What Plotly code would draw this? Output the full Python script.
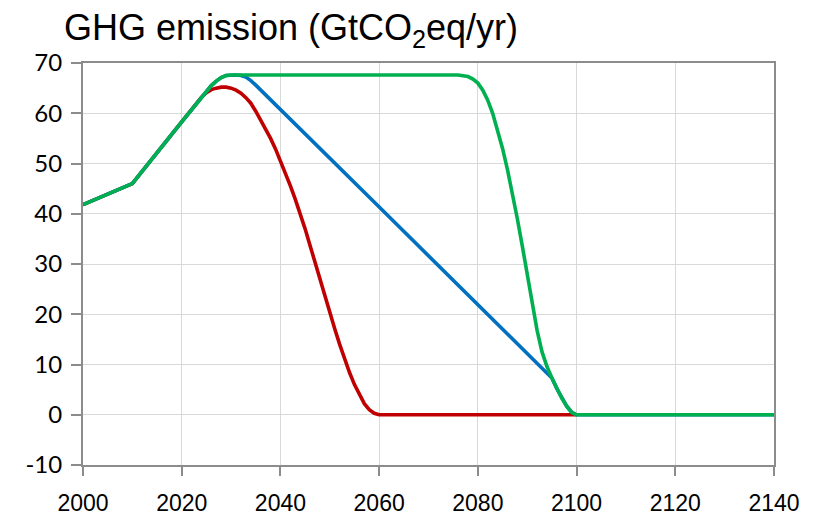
import plotly.graph_objects as go

# Common historical/rising part shared by all three scenarios
common_years = [2000, 2010, 2020, 2024]
common_vals = [41.8, 46.0, 58.3, 63.2]

# Red scenario (fast decline to zero by 2060)
red_years = [2025, 2026, 2027, 2028, 2029, 2030, 2031, 2032, 2033, 2034, 2035, 2036, 2037,
             2038, 2039, 2040, 2041, 2042, 2043, 2044, 2045, 2046, 2047, 2048, 2049, 2050,
             2051, 2052, 2053, 2054, 2055, 2056, 2057, 2058, 2059, 2060, 2100]
red_vals = [64.1, 64.7, 65.0, 65.2, 65.2, 65.0, 64.6, 64.0, 63.1, 62.0, 60.4, 58.7, 56.9,
            55.0, 52.9, 50.6, 48.2, 45.6, 42.9, 40.1, 37.0, 33.7, 30.3, 26.9, 23.6, 20.3,
            17.1, 14.0, 11.1, 8.4, 6.0, 3.9, 2.2, 1.0, 0.3, 0.0, 0.0]

# Blue scenario (linear decline, joins green near 2095)
blue_years = [2025, 2026, 2027, 2028, 2029, 2030, 2031, 2032, 2033, 2034, 2035,
              2061.4, 2092.3, 2095, 2096, 2097, 2098, 2099, 2100, 2140]
blue_vals = [64.4, 65.5, 66.4, 67.1, 67.5, 67.6, 67.6, 67.5, 67.2, 66.5, 65.6,
             40.0, 10.0, 7.3, 5.2, 3.3, 1.7, 0.5, 0.0, 0.0]

# Green scenario (plateau then late decline)
green_years = [2025, 2026, 2027, 2028, 2029, 2030, 2076, 2077, 2078, 2079, 2080, 2081,
               2082, 2083, 2084, 2085, 2086, 2087, 2088, 2089, 2090, 2091, 2092, 2093,
               2094, 2095, 2096, 2097, 2098, 2099, 2100, 2140]
green_vals = [64.4, 65.5, 66.4, 67.1, 67.5, 67.6, 67.6, 67.5, 67.3, 66.8, 66.0, 64.6,
              62.6, 60.0, 56.8, 53.0, 48.8, 44.1, 39.0, 33.6, 28.0, 22.3, 16.8, 12.5,
              9.6, 7.3, 5.2, 3.3, 1.7, 0.5, 0.0, 0.0]

x_ticks = [2000, 2020, 2040, 2060, 2080, 2100, 2120, 2140]
y_ticks = [-10, 0, 10, 20, 30, 40, 50, 60, 70]
y_labels = ["-10", "0", "10", "20", "30", "40", "50", "60", "70"]

RED = "#C00000"
BLUE = "#0070C0"
GREEN = "#00B050"
LW = 3.6

# page body has an 8px default margin, so the figure is drawn 8px in from the top-left
W, H, OFF = 811, 508, 8

fig = go.Figure()
for yrs, vals, col in [(red_years, red_vals, RED), (blue_years, blue_vals, BLUE),
                       (green_years, green_vals, GREEN)]:
    fig.add_trace(go.Scatter(x=common_years + yrs, y=common_vals + vals, mode="lines",
                             line=dict(color=col, width=LW), hoverinfo="skip"))

fig.update_layout(
    width=W, height=H,
    margin=dict(l=83 - OFF, r=45, t=63 - OFF, b=51, autoexpand=False),
    paper_bgcolor="white", plot_bgcolor="white",
    showlegend=False,
    title=dict(text="GHG emission (GtCO<sub>2</sub>eq/yr)",
               font=dict(family="Liberation Sans, Arial", size=36, color="#000000"),
               xref="container", yref="container", x=(64 - OFF) / W, xanchor="left",
               y=1 - 7 / H, yanchor="top", automargin=False),
)
fig.update_xaxes(range=[2000, 2140], tickvals=x_ticks, ticktext=[str(v) for v in x_ticks],
                 showgrid=True, gridcolor="#d9d9d9", gridwidth=1.3,
                 showline=True, linecolor="#8c8c8c", linewidth=2, mirror=True,
                 ticks="outside", ticklen=9, tickwidth=2, tickcolor="#8c8c8c",
                 tickfont=dict(family="Liberation Sans Narrow, Liberation Sans", size=23, color="#000000"),
                 ticklabelstandoff=7, zeroline=False, automargin=False)
fig.update_yaxes(range=[-10, 70], tickvals=y_ticks, ticktext=y_labels,
                 showgrid=True, gridcolor="#d9d9d9", gridwidth=1.3,
                 showline=True, linecolor="#8c8c8c", linewidth=2, mirror=True,
                 ticks="outside", ticklen=10, tickwidth=2, tickcolor="#8c8c8c",
                 tickfont=dict(family="Lato, Carlito", size=24, color="#000000"),
                 ticklabelstandoff=4, zeroline=False, automargin=False)

fig.write_html("out.html")
